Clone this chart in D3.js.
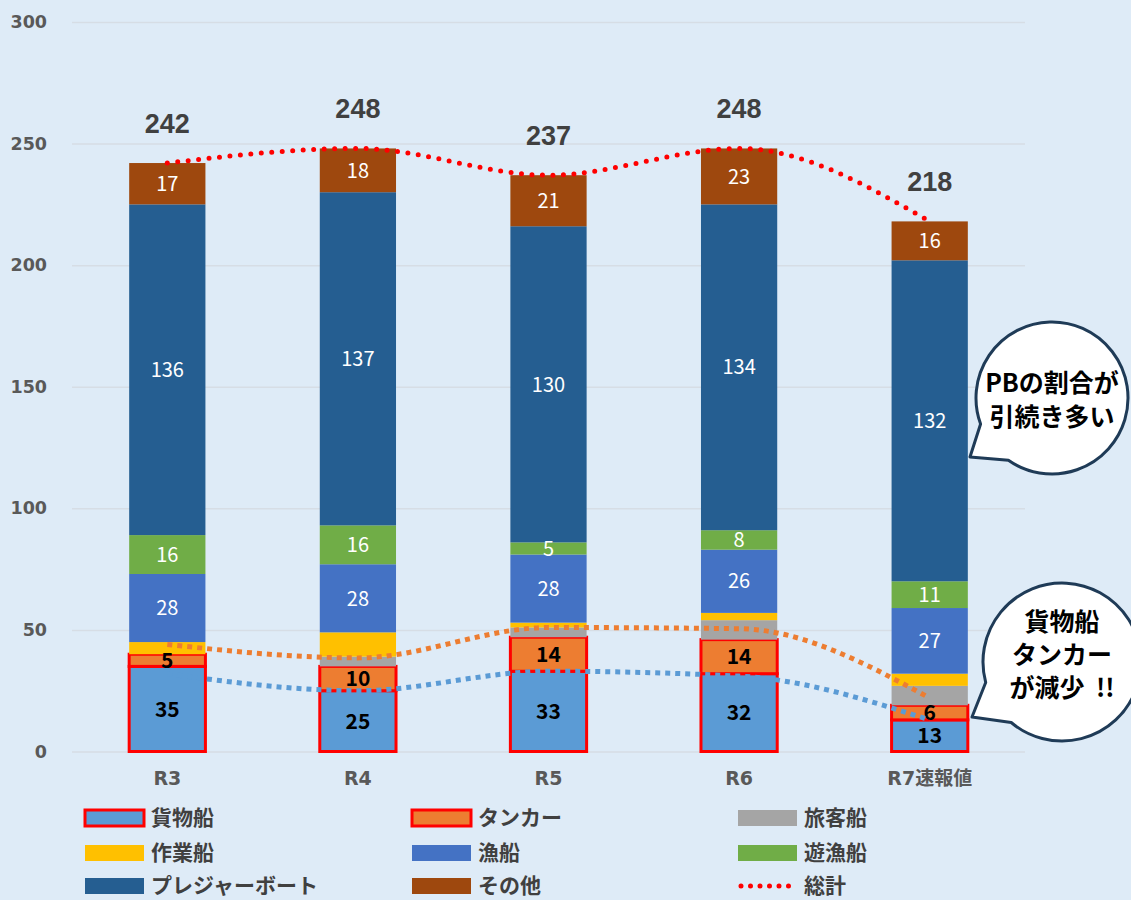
<!DOCTYPE html>
<html>
<head>
<meta charset="utf-8">
<script src="https://cdn.jsdelivr.net/npm/d3@7"></script>
<style>
  body { margin: 0; background: #deebf7; }
  svg { display: block; }
</style>
</head>
<body>
<script>
'use strict';

// categories and series
const categories = ['R3', 'R4', 'R5', 'R6', 'R7速報値'];
const seriesNames = ['貨物船', 'タンカー', '旅客船', '作業船', '漁船', '遊漁船', 'プレジャーボート', 'その他'];
const seriesColors = ['#5b9bd5', '#ed7d31', '#a5a5a5', '#ffc000', '#4472c4', '#70ad47', '#255e91', '#9e480e'];

const cargo = [35, 25, 33, 32, 13];
const tanker = [5, 10, 14, 14, 6];
const passenger = [0, 4, 4, 8, 8];
const workBoat = [5, 10, 2, 3, 5];
const fishing = [28, 28, 28, 26, 27];
const recFishing = [16, 16, 5, 8, 11];
const pleasure = [136, 137, 130, 134, 132];
const other = [17, 18, 21, 23, 16];

// dotted trend lines drawn over the bars
const cargoTrend = [32, 25, 33, 31, 13];
const tankerTrend = [44, 38.5, 51, 50.5, 22];

const yTicks = [0, 50, 100, 150, 200, 250, 300];

const W = 1131, H = 900;
const svg = d3.select('body').append('svg').attr('width', W).attr('height', H);
svg.append('rect').attr('width', W).attr('height', H).attr('fill', '#deebf7');

const x = d3.scaleBand().domain(categories).range([72, 1025]).paddingInner(0.6).paddingOuter(0.3);
const y = d3.scaleLinear().domain([0, 300]).range([751.5, 22]);
const bw = x.bandwidth();
const cx = c => x(c) + bw / 2;

// grid + y labels
const yAxis = d3.axisLeft(y).tickValues(yTicks).tickSize(-(1025 - 72)).tickPadding(25);
const ga = svg.append('g').attr('transform', 'translate(72,0)').call(yAxis);
ga.select('.domain').remove();
ga.selectAll('.tick line').attr('stroke', '#d6dde5').attr('stroke-width', 1.5);
ga.selectAll('.tick text')
  .attr('fill', '#595959')
  .attr('font-family', '"DejaVu Sans", sans-serif')
  .attr('font-weight', 'bold')
  .attr('font-size', 17.5);

// x labels
const xAxis = d3.axisBottom(x).tickSize(0).tickPadding(20);
const gx = svg.append('g').attr('transform', 'translate(0,751.5)').call(xAxis);
gx.select('.domain').remove();
gx.selectAll('.tick text')
  .attr('fill', '#595959')
  .attr('font-family', '"DejaVu Sans", "Noto Sans CJK JP", sans-serif')
  .attr('font-weight', 'bold')
  .attr('font-size', 19);

// stacked bars
const allSeries = [cargo, tanker, passenger, workBoat, fishing, recFishing, pleasure, other];
const rows = categories.map((c, i) => {
  const row = { cat: c };
  seriesNames.forEach((s, k) => { row[s] = allSeries[k][i]; });
  return row;
});
const stacked = d3.stack().keys(seriesNames)(rows);
const totals = rows.map(r => d3.sum(seriesNames, s => r[s]));

const barsG = svg.append('g');
stacked.forEach((layer, k) => {
  barsG.selectAll(null)
    .data(layer)
    .enter()
    .append('rect')
    .attr('x', d => x(d.data.cat))
    .attr('y', d => y(d[1]))
    .attr('width', bw)
    .attr('height', d => y(d[0]) - y(d[1]))
    .attr('fill', seriesColors[k])
    .attr('stroke', k < 2 ? '#ff0000' : 'none')
    .attr('stroke-width', k < 2 ? 3 : 0);
});

// segment labels (旅客船 / 作業船 have none)
const labelled = [0, 1, 4, 5, 6, 7];
labelled.forEach(k => {
  const dark = k < 2;
  barsG.selectAll(null)
    .data(stacked[k])
    .enter()
    .append('text')
    .attr('x', d => cx(d.data.cat))
    .attr('y', d => y((d[0] + d[1]) / 2))
    .attr('dy', '0.36em')
    .attr('text-anchor', 'middle')
    .attr('font-family', '"Noto Sans CJK JP", sans-serif')
    .attr('font-size', dark ? 21 : 20)
    .attr('font-weight', dark ? 'bold' : 'normal')
    .attr('fill', dark ? '#000' : '#fff')
    .text(d => d[1] - d[0]);
});

// trend lines
const line = d3.line().x((d, i) => cx(categories[i])).y(d => y(d)).curve(d3.curveMonotoneX);
svg.append('path').attr('d', line(tankerTrend)).attr('fill', 'none')
  .attr('stroke', '#ed7d31').attr('stroke-width', 5).attr('stroke-dasharray', '5,5');
svg.append('path').attr('d', line(cargoTrend)).attr('fill', 'none')
  .attr('stroke', '#5b9bd5').attr('stroke-width', 5).attr('stroke-dasharray', '5,5');
svg.append('path').attr('d', line(totals)).attr('fill', 'none')
  .attr('stroke', '#ff0000').attr('stroke-width', 5).attr('stroke-linecap', 'round')
  .attr('stroke-dasharray', '0,10.5');

// totals above bars
svg.selectAll(null)
  .data(totals)
  .enter()
  .append('text')
  .attr('x', (d, i) => cx(categories[i]))
  .attr('y', d => y(d) - 30)
  .attr('text-anchor', 'middle')
  .attr('font-family', '"Liberation Sans", Arial, sans-serif')
  .attr('font-weight', 'bold')
  .attr('font-size', 27)
  .attr('fill', '#404040')
  .text(d => d);

// speech bubbles
function bubblePath(bx, by, r, tip, a1, a2) {
  const p = a => [bx + r * Math.cos(a * Math.PI / 180), by + r * Math.sin(a * Math.PI / 180)];
  const s = p(a1), e = p(a2);
  return 'M' + s + 'L' + tip + 'L' + e + 'A' + r + ',' + r + ' 0 1 1 ' + s + 'Z';
}
function appendBubble(bx, by, r, tip, a1, a2, lines, lineYs) {
  svg.append('path')
    .attr('d', bubblePath(bx, by, r, tip, a1, a2))
    .attr('fill', '#fff')
    .attr('stroke', '#1f3b57')
    .attr('stroke-width', 3)
    .attr('stroke-linejoin', 'round');
  lines.forEach((t, i) => {
    svg.append('text')
      .attr('x', bx)
      .attr('y', lineYs[i])
      .attr('dy', '0.36em')
      .attr('text-anchor', 'middle')
      .attr('font-family', '"Noto Sans CJK JP", sans-serif')
      .attr('font-weight', 'bold')
      .attr('font-size', 25)
      .attr('fill', '#000')
      .text(t);
  });
}
appendBubble(1052, 398, 76, [970, 457], 125, 160, ['PBの割合が', '引続き多い'], [383, 417]);
appendBubble(1062, 662, 79, [972, 717], 130, 165, ['貨物船', 'タンカー', 'が減少\u00a0\u00a0!!'], [622, 655, 688]);

// legend
const legendItems = [
  { name: '貨物船', color: seriesColors[0], outline: true },
  { name: 'タンカー', color: seriesColors[1], outline: true },
  { name: '旅客船', color: seriesColors[2] },
  { name: '作業船', color: seriesColors[3] },
  { name: '漁船', color: seriesColors[4] },
  { name: '遊漁船', color: seriesColors[5] },
  { name: 'プレジャーボート', color: seriesColors[6] },
  { name: 'その他', color: seriesColors[7] },
  { name: '総計', line: true }
];
const colX = [85, 412, 738];
const rowY = [818, 853, 886];
const lg = svg.append('g');
legendItems.forEach((it, i) => {
  const lx = colX[i % 3], ly = rowY[Math.floor(i / 3)];
  if (it.line) {
    lg.append('line')
      .attr('x1', lx + 3).attr('x2', lx + 56).attr('y1', ly).attr('y2', ly)
      .attr('stroke', '#ff0000').attr('stroke-width', 5).attr('stroke-linecap', 'round')
      .attr('stroke-dasharray', '0,9.5');
  } else {
    lg.append('rect')
      .attr('x', lx).attr('y', ly - 8).attr('width', 59).attr('height', 16)
      .attr('fill', it.color)
      .attr('stroke', it.outline ? '#ff0000' : 'none')
      .attr('stroke-width', it.outline ? 3 : 0);
  }
  lg.append('text')
    .attr('x', lx + 66).attr('y', ly).attr('dy', '0.34em')
    .attr('font-family', '"Noto Sans CJK JP", sans-serif')
    .attr('font-weight', 'bold')
    .attr('font-size', 21)
    .attr('fill', '#404040')
    .text(it.name);
});
</script>
</body>
</html>
